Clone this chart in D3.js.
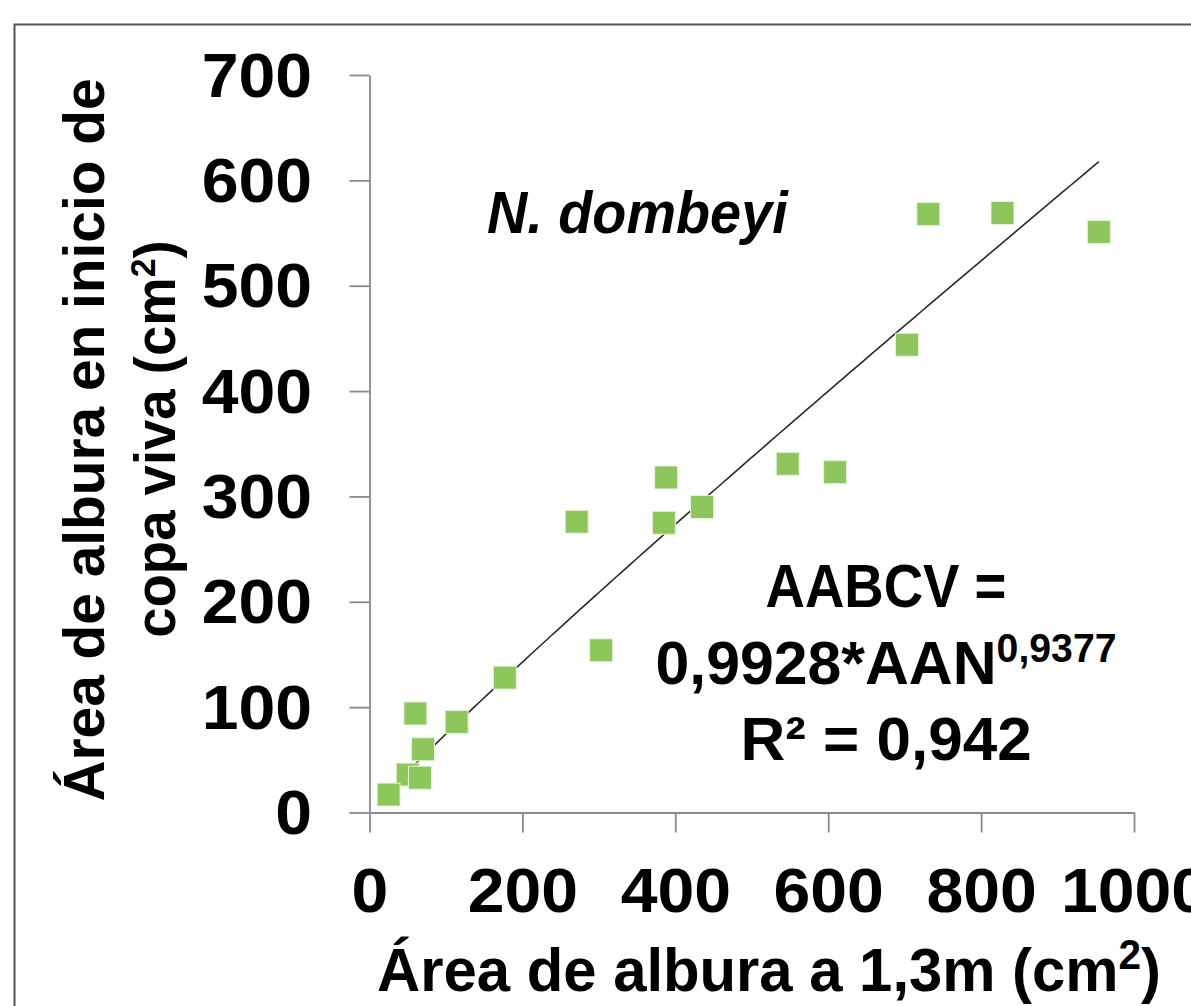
<!DOCTYPE html>
<html>
<head>
<meta charset="utf-8">
<script src="https://cdn.jsdelivr.net/npm/d3@7"></script>
<style>
  html, body { margin: 0; padding: 0; background: #fff; }
  svg { display: block; }
  text { font-family: "Liberation Sans", Arial, sans-serif; font-weight: bold; fill: #000; }
</style>
</head>
<body>
<svg id="chart" width="1191" height="1006"></svg>
<script>
// ---- data ----
const xTicks = [0, 200, 400, 600, 800, 1000];
const yTicks = [0, 100, 200, 300, 400, 500, 600, 700];
// sapwood area at 1.3 m (cm2)
const sapwoodBreast = [50, 25, 60, 70, 66, 114, 177, 271, 303, 388, 385, 435, 547, 609, 703, 731, 828, 954];
// sapwood area at live crown base (cm2)
const sapwoodCrown  = [36, 17, 94, 60, 33, 86, 128, 276, 154, 318, 275, 290, 331, 323, 444, 568, 569, 551];
// fitted power trendline  AABCV = a * AAN^b
const trendA = 0.9928;
const trendB = 0.9377;
const speciesLabel = "N. dombeyi";
const eqLine1 = "AABCV =";
const eqLine2 = "0,9928*AAN";
const eqExp = "0,9377";
const eqLine3 = "R² = 0,942";
const xTitle = "Área de albura a 1,3m (cm";
const yTitle1 = "Área de albura en inicio de";
const yTitle2 = "copa viva (cm";

// ---- layout ----
const svg = d3.select("#chart");
const x = d3.scaleLinear().domain([0, 1000]).range([369.5, 1134]);
const y = d3.scaleLinear().domain([0, 700]).range([812.5, 75]);
const axisColor = "#8a8a8a";
const fmt = d3.format("d");

// outer border
svg.append("rect")
  .attr("x", 14.5).attr("y", 24.5)
  .attr("width", 1200).attr("height", 1000)
  .attr("fill", "none").attr("stroke", "#555").attr("stroke-width", 2);

// y axis
const gy = svg.append("g").attr("transform", `translate(${x(0)},0)`)
  .call(d3.axisLeft(y).tickValues(yTicks).tickFormat(fmt).tickSize(20).tickSizeOuter(0));
gy.select(".domain").attr("stroke", axisColor).attr("stroke-width", 1.8);
gy.selectAll(".tick line").attr("stroke", axisColor).attr("stroke-width", 1.8);
gy.selectAll(".tick text")
  .attr("x", 0).attr("dy", 0)
  .attr("transform", "translate(-57.5,21) scale(1.05,1)")
  .attr("text-anchor", "end")
  .style("font-size", "63px").style("font-family", "Liberation Sans, Arial, sans-serif")
  .style("font-weight", "bold").attr("fill", "#000");

// x axis
const gx = svg.append("g").attr("transform", `translate(0,${y(0)})`)
  .call(d3.axisBottom(x).tickValues(xTicks).tickFormat(fmt).tickSize(20).tickSizeOuter(0));
gx.select(".domain").attr("stroke", axisColor).attr("stroke-width", 1.8);
gx.selectAll(".tick line").attr("stroke", axisColor).attr("stroke-width", 1.8);
gx.selectAll(".tick text")
  .attr("y", 0).attr("dy", 0)
  .attr("transform", "translate(0,99.5) scale(1.05,1)")
  .attr("text-anchor", "middle")
  .style("font-size", "63px").style("font-family", "Liberation Sans, Arial, sans-serif")
  .style("font-weight", "bold").attr("fill", "#000");

// trendline
const xMin = d3.min(sapwoodBreast), xMax = d3.max(sapwoodBreast);
const trendX = d3.range(0, 101).map(i => xMin + (xMax - xMin) * i / 100);
svg.append("path")
  .datum(trendX)
  .attr("fill", "none").attr("stroke", "#2a2a2a").attr("stroke-width", 1.6)
  .attr("d", d3.line().x(d => x(d)).y(d => y(trendA * Math.pow(d, trendB))));

// points
const pts = sapwoodBreast.map((v, i) => ({ x: v, y: sapwoodCrown[i] }));
svg.append("g").selectAll("path").data(pts).join("path")
  .attr("transform", d => `translate(${x(d.x)},${y(d.y)})`)
  .attr("d", d3.symbol(d3.symbolSquare, 23 * 23))
  .attr("fill", "#8dc75b").attr("stroke", "#e8f4de").attr("stroke-width", 1);

// species label
svg.append("text")
  .attr("transform", "translate(487,233) scale(0.93,1)")
  .style("font-size", "60px").style("font-style", "italic")
  .text(speciesLabel);

// equation
const eq = svg.append("g").attr("transform", "translate(886,0)");
eq.append("text").attr("transform", "translate(0,607) scale(0.88,1)")
  .attr("text-anchor", "middle").style("font-size", "62px").text(eqLine1);
const eq2 = eq.append("text").attr("transform", "translate(0,684) scale(0.98,1)")
  .attr("text-anchor", "middle").style("font-size", "62px");
eq2.append("tspan").text(eqLine2);
eq2.append("tspan").attr("dy", -22).style("font-size", "40px").text(eqExp);
eq.append("text").attr("transform", "translate(0,760) scale(1,1)")
  .attr("text-anchor", "middle").style("font-size", "62px").text(eqLine3);

// x title
const xt = svg.append("text").attr("transform", "translate(769,991) scale(0.965,1)")
  .attr("text-anchor", "middle").style("font-size", "62px");
xt.append("tspan").text(xTitle);
xt.append("tspan").attr("dy", -22).style("font-size", "42px").text("2");
xt.append("tspan").attr("dy", 22).text(")");

// y title
svg.append("text").attr("transform", "translate(104,440) rotate(-90) scale(0.98,1)")
  .attr("text-anchor", "middle").style("font-size", "58px").text(yTitle1);
const yt2 = svg.append("text").attr("transform", "translate(175,439) rotate(-90) scale(0.94,1)")
  .attr("text-anchor", "middle").style("font-size", "58px");
yt2.append("tspan").text(yTitle2);
yt2.append("tspan").attr("dy", -20).style("font-size", "36px").text("2");
yt2.append("tspan").attr("dy", 20).text(")");
</script>
</body>
</html>
